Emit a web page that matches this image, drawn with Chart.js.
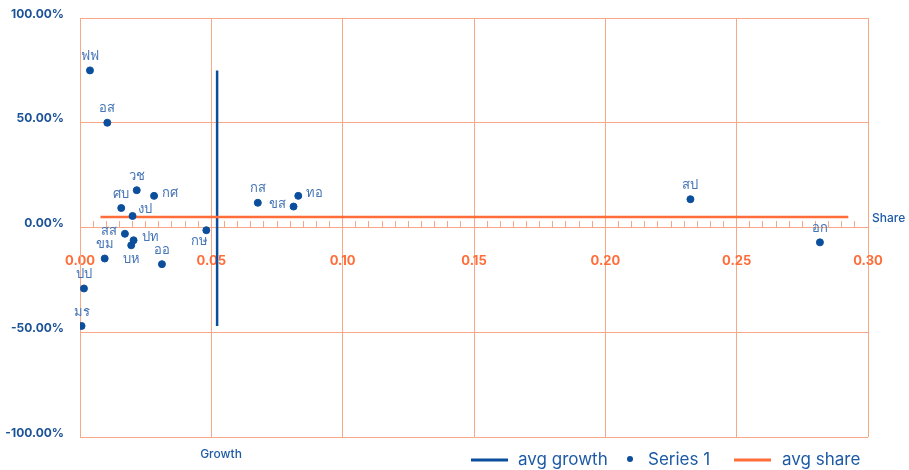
<!DOCTYPE html>
<html>
<head>
<meta charset="utf-8">
<script src="https://cdn.jsdelivr.net/npm/chart.js@4.4.0/dist/chart.umd.min.js"></script>
<style>
    html, body { margin: 0; padding: 0; background: #fff; }
    #wrap { width: 909px; height: 470px; }
</style>
</head>
<body>
<div id="wrap"><canvas id="matrixChart"></canvas></div>
<script>
// data
const names = ['ฟฟ', 'อส', 'วช', 'กศ', 'ศบ', 'งป', 'สส', 'ปท', 'บห', 'ขม', 'ออ', 'กษ', 'ปป', 'มร', 'กส', 'ขส', 'ทอ', 'สป', 'อก'];
const share = [0.0038, 0.0104, 0.0216, 0.0282, 0.0157, 0.0200, 0.0171, 0.0204, 0.0195, 0.0094, 0.0312, 0.0481, 0.0015, 0.0006, 0.0677, 0.0813, 0.0831, 0.2324, 0.2817];
const growth = [75, 50, 17.8, 15.1, 9.3, 5.5, -3.0, -6.1, -8.5, -14.8, -17.5, -1.3, -29.1, -47, 11.8, 10.0, 15.1, 13.5, -7.1];
const labelSide = ['top', 'top', 'top', 'right', 'top', 'righttop', 'left', 'right', 'bottom', 'top', 'top', 'bottomleft', 'top', 'top', 'top', 'left', 'right', 'top', 'top'];

const avgGrowthX = [0.0522, 0.0522];
const avgGrowthY = [75, -47];
const avgShareX = [0.0078, 0.2925];
const avgShareY = [5, 5];

const xTicks = [0, 0.05, 0.10, 0.15, 0.20, 0.25, 0.30];
const yTicks = [-100, -50, 0, 50, 100];

const blue = '#0b4f9c';
const labelBlue = '#4574b5';
const orange = '#ff6e3a';
const gridOrange = '#f9a886';
const tickFont = 'Inter, "Open Sans", sans-serif';
const thaiFont = '"Noto Sans", "Open Sans", sans-serif';

function isMajor(v) {
    return Math.abs(v / 0.05 - Math.round(v / 0.05)) < 1e-6;
}

function noOverhang(scale) {
    scale.paddingTop = 0;
    scale.paddingBottom = 0;
    scale.paddingLeft = 0;
    scale.paddingRight = 0;
}

// point labels
const pointLabels = {
    id: 'pointLabels',
    afterDatasetsDraw(chart) {
        const meta = chart.getDatasetMeta(1);
        const ctx = chart.ctx;
        ctx.save();
        ctx.font = '13px ' + thaiFont;
        ctx.fillStyle = labelBlue;
        ctx.textBaseline = 'middle';
        meta.data.forEach((pt, i) => {
            let x = pt.x, y = pt.y;
            const side = labelSide[i];
            if (side === 'top') {
                ctx.textAlign = 'center';
                y -= 14;
            } else if (side === 'right') {
                ctx.textAlign = 'left';
                x += 8; y -= 3;
            } else if (side === 'righttop') {
                ctx.textAlign = 'left';
                x += 5; y -= 7;
            } else if (side === 'left') {
                ctx.textAlign = 'right';
                x -= 8; y -= 2;
            } else if (side === 'bottom') {
                ctx.textAlign = 'center';
                y += 14;
            } else {
                ctx.textAlign = 'center';
                x -= 7; y += 11;
            }
            ctx.fillText(names[i], x, y);
        });
        ctx.restore();
    }
};

// axis titles and legend
const extras = {
    id: 'extras',
    afterDraw(chart) {
        const ctx = chart.ctx;
        const xs = chart.scales.x;
        const ys = chart.scales.y;
        ctx.save();
        ctx.font = '500 12px ' + tickFont;
        ctx.fillStyle = '#1d5aa6';
        ctx.textBaseline = 'middle';
        ctx.textAlign = 'left';
        ctx.fillText('Share', xs.right + 4, ys.getPixelForValue(0) - 9);
        ctx.textAlign = 'center';
        ctx.fillText('Growth', 221, 454);

        // legend
        const ly = 460;
        ctx.font = '17px ' + tickFont;
        ctx.textAlign = 'left';
        ctx.fillStyle = blue;
        ctx.fillRect(471, ly - 1.5, 37, 3);
        ctx.fillStyle = '#1d5aa6';
        ctx.fillText('avg growth', 518, ly);
        ctx.fillStyle = blue;
        ctx.beginPath();
        ctx.arc(630, ly - 1, 3, 0, Math.PI * 2);
        ctx.fill();
        ctx.fillStyle = '#1d5aa6';
        ctx.fillText('Series 1', 648, ly);
        ctx.fillStyle = orange;
        ctx.fillRect(734, ly - 1.5, 37, 3);
        ctx.fillStyle = '#1d5aa6';
        ctx.fillText('avg share', 782, ly);
        ctx.restore();
    }
};

document.addEventListener('DOMContentLoaded', function() {
    const canvas = document.getElementById('matrixChart');
    new Chart(canvas, {
        type: 'scatter',
        data: {
            datasets: [{
                type: 'line',
                label: 'avg growth',
                data: avgGrowthX.map((x, i) => ({ x: x, y: avgGrowthY[i] })),
                borderColor: blue,
                borderWidth: 2.5,
                pointRadius: 0,
                order: 2
            }, {
                label: 'Series 1',
                data: share.map((x, i) => ({ x: x, y: growth[i] })),
                backgroundColor: blue,
                borderColor: blue,
                pointRadius: 3.5,
                pointHoverRadius: 3.5,
                order: 0
            }, {
                type: 'line',
                label: 'avg share',
                data: avgShareX.map((x, i) => ({ x: x, y: avgShareY[i] })),
                borderColor: orange,
                borderWidth: 2.5,
                pointRadius: 0,
                order: 1
            }]
        },
        options: {
            responsive: true,
            maintainAspectRatio: false,
            animation: false,
            layout: {
                padding: { top: 18, right: 41, bottom: 33, left: 0 }
            },
            plugins: {
                legend: { display: false },
                tooltip: { enabled: false }
            },
            scales: {
                x: {
                    type: 'linear',
                    position: { y: 0 },
                    min: 0,
                    max: 0.30,
                    afterBuildTicks: (scale) => {
                        const t = [];
                        for (let i = 0; i <= 60; i++) t.push({ value: +(i * 0.005).toFixed(3) });
                        scale.ticks = t;
                    },
                    afterFit: noOverhang,
                    ticks: {
                        autoSkip: false,
                        maxRotation: 0,
                        padding: 33,
                        color: orange,
                        font: { family: tickFont, size: 13, weight: 'bold' },
                        callback: (v) => xTicks.some(t => Math.abs(t - v) < 1e-6) ? Number(v).toFixed(2) : ''
                    },
                    grid: {
                        color: (c) => c.tick && isMajor(c.tick.value) ? gridOrange : 'rgba(0,0,0,0)',
                        tickColor: gridOrange,
                        tickLength: -7,
                        lineWidth: 1
                    },
                    border: { color: gridOrange, width: 1 }
                },
                y: {
                    type: 'linear',
                    position: 'left',
                    min: -100,
                    max: 100,
                    afterBuildTicks: (scale) => {
                        scale.ticks = yTicks.map(v => ({ value: v }));
                    },
                    afterFit: (scale) => { scale.width = 80; noOverhang(scale); },
                    ticks: {
                        padding: 16,
                        labelOffset: -4,
                        color: '#1b5297',
                        font: { family: tickFont, size: 12, weight: 'bold' },
                        callback: (v) => Number(v).toFixed(2) + '%'
                    },
                    grid: {
                        color: gridOrange,
                        drawTicks: false
                    },
                    border: { color: gridOrange }
                }
            }
        },
        plugins: [pointLabels, extras]
    });
});
</script>
</body>
</html>
